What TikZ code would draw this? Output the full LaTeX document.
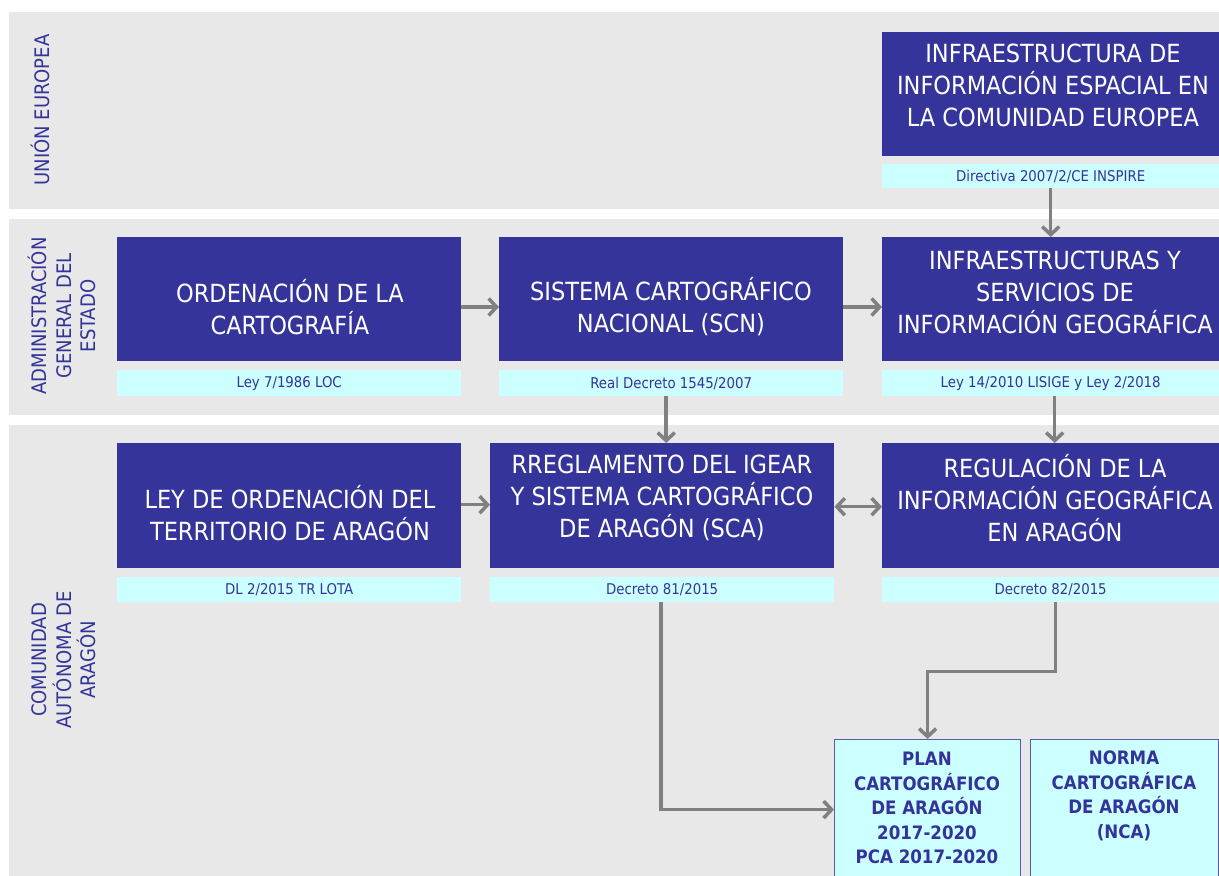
\documentclass[tikz,border=0pt]{standalone}
\usepackage{fontspec}
\setmainfont{DejaVu Sans Condensed}
\usetikzlibrary{arrows.meta,calc}
\definecolor{bandgray}{HTML}{E8E8E8}
\definecolor{darkbox}{HTML}{35349A}
\definecolor{txtblue}{HTML}{33339A}
\definecolor{lightcyan}{HTML}{CCFFFF}
\definecolor{arrowgray}{HTML}{808080}
\definecolor{edgeblue}{HTML}{5A5AB0}
\tikzset{
  band/.style={fill=bandgray, draw=none},
  bigbox/.style={fill=darkbox, draw=none, anchor=north west, inner sep=0pt},
  lawbox/.style={fill=lightcyan, draw=none, anchor=north west, inner sep=0pt, text=txtblue, font=\fontsize{14.8}{17}\selectfont},
  boxtext/.style={text=white, align=center, font=\fontsize{25}{32}\selectfont, inner sep=0pt},
  sidetext/.style={text=txtblue, align=center, rotate=90, font=\fontsize{20}{24.5}\selectfont, inner sep=0pt},
  planbox/.style={fill=lightcyan, draw=edgeblue, line width=1.2pt, anchor=north west, inner sep=0pt},
  plantext/.style={text=txtblue, align=center, font=\bfseries\fontsize{18.5}{24.5}\selectfont, inner sep=0pt},
  conn/.style={draw=arrowgray, line width=3.5pt, -{Straight Barb[length=8pt,width=17pt]}},
  biconn/.style={draw=arrowgray, line width=3.5pt, {Straight Barb[length=8pt,width=17pt]}-{Straight Barb[length=8pt,width=17pt]}}
}
\begin{document}
\begin{tikzpicture}[x=1pt,y=-1pt]
\useasboundingbox (0,0) rectangle (1219,876);
\fill[white] (0,0) rectangle (1219,876);
% bands
\path[band] (9,12) rectangle (1219,209);
\path[band] (9,219) rectangle (1219,415);
\path[band] (9,425) rectangle (1219,876);
% side labels
\node[sidetext] (s1) at (40,110) {UNIÓN EUROPEA};
\node[sidetext] (s2) at (62,316) {ADMINISTRACIÓN\\GENERAL DEL\\ESTADO};
\node[sidetext] (s3) at (64,660) {COMUNIDAD\\AUTÓNOMA DE\\ARAGÓN};
% EU
\node[bigbox, minimum width=337pt, minimum height=124pt] (eu) at (882,32) {};
\node[boxtext] (eu-t) at (1053,85) {INFRAESTRUCTURA DE\\INFORMACIÓN ESPACIAL EN\\LA COMUNIDAD EUROPEA};
\node[lawbox, minimum width=337pt, minimum height=24pt] (eu-lab) at (882,164) {Directiva 2007/2/CE INSPIRE};
% Band 2
\node[bigbox, minimum width=344pt, minimum height=124pt] (b2a) at (117,237) {};
\node[boxtext] (b2a-t) at (290,307) {ORDENACIÓN DE LA\\CARTOGRAFÍA};
\node[lawbox, minimum width=344pt, minimum height=26pt] (b2a-lab) at (117,370) {Ley 7/1986 LOC};
\node[bigbox, minimum width=344pt, minimum height=124pt] (b2b) at (499,237) {};
\node[boxtext] (b2b-t) at (671,307) {SISTEMA CARTOGRÁFICO\\NACIONAL (SCN)};
\node[lawbox, minimum width=344pt, minimum height=26pt] (b2b-lab) at (499,370) {Real Decreto 1545/2007};
\node[bigbox, minimum width=337pt, minimum height=124pt] (b2c) at (882,237) {};
\node[boxtext] (b2c-t) at (1055,292) {INFRAESTRUCTURAS Y\\SERVICIOS DE\\INFORMACIÓN GEOGRÁFICA};
\node[lawbox, minimum width=337pt, minimum height=26pt] (b2c-lab) at (882,370) {Ley 14/2010 LISIGE y Ley 2/2018};
% Band 3
\node[bigbox, minimum width=344pt, minimum height=125pt] (b3a) at (117,443) {};
\node[boxtext] (b3a-t) at (290,513) {LEY DE ORDENACIÓN DEL\\TERRITORIO DE ARAGÓN};
\node[lawbox, minimum width=344pt, minimum height=25pt] (b3a-lab) at (117,577) {DL 2/2015 TR LOTA};
\node[bigbox, minimum width=344pt, minimum height=125pt] (b3b) at (490,443) {};
\node[boxtext] (b3b-t) at (662,498) {RREGLAMENTO DEL IGEAR\\Y SISTEMA CARTOGRÁFICO\\DE ARAGÓN (SCA)};
\node[lawbox, minimum width=344pt, minimum height=25pt] (b3b-lab) at (490,577) {Decreto 81/2015};
\node[bigbox, minimum width=337pt, minimum height=125pt] (b3c) at (882,443) {};
\node[boxtext] (b3c-t) at (1055,498) {REGULACIÓN DE LA\\INFORMACIÓN GEOGRÁFICA\\EN ARAGÓN};
\node[lawbox, minimum width=337pt, minimum height=25pt] (b3c-lab) at (882,577) {Decreto 82/2015};
% bottom boxes
\node[planbox, minimum width=186pt, minimum height=140pt] (plan) at (834,739) {};
\node[plantext] (plan-t) at (927,808) {PLAN\\CARTOGRÁFICO\\DE ARAGÓN\\2017-2020\\PCA 2017-2020};
\node[planbox, minimum width=188pt, minimum height=140pt] (nca) at (1030,739) {};
\node[plantext] (nca-t) at (1124,796) {NORMA\\CARTOGRÁFICA\\DE ARAGÓN\\(NCA)};
% connectors
\draw[conn] (eu-lab.south) -- (eu-lab.south |- b2c.north);
\draw[conn] (b2a.east |- b2a-t) -- (b2b.west |- b2a-t);
\draw[conn] (b2b.east |- b2b-t) -- (b2c.west |- b2b-t);
\draw[conn] ($(b2b-lab.south)+(-5,0)$) -- ($(b2b-lab.south |- b3b.north)+(-5,0)$);
\draw[conn] ($(b2c-lab.south)+(4,0)$) -- ($(b2c-lab.south |- b3c.north)+(4,0)$);
\draw[conn] ($(b3a.east)+(0,-1)$) -- ($(b3b.west)+(0,-1)$);
\draw[biconn] ($(b3b.east)+(0,1)$) -- ($(b3c.west)+(0,1)$);
\draw[conn] ($(b3b-lab.south)+(-1,0)$) |- (plan.west);
\draw[conn] ($(b3c-lab.south)+(5,0)$) -- ($(b3c-lab.south)+(5,69)$) -| (plan.north);
\end{tikzpicture}
\end{document}
